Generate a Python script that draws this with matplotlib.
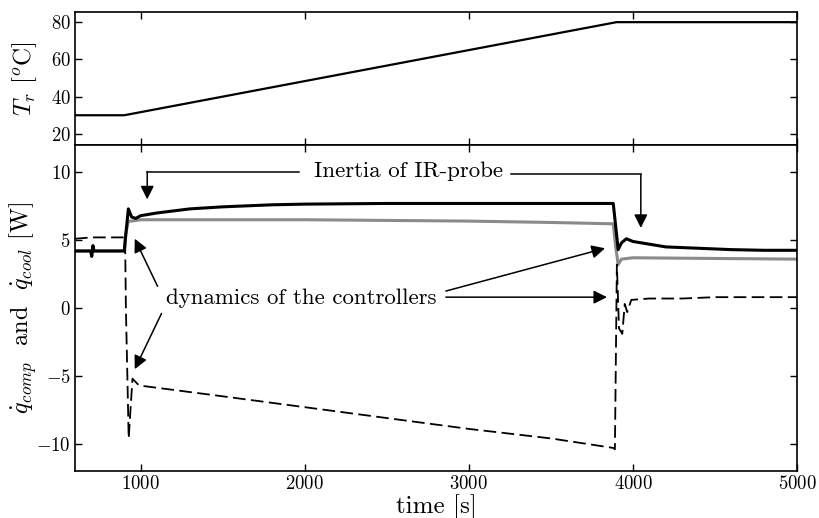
import matplotlib
matplotlib.use("Agg")
import matplotlib.pyplot as plt

plt.rcParams['font.family'] = ['cmr10', 'DejaVu Serif']
plt.rcParams['mathtext.fontset'] = 'cm'
plt.rcParams['axes.formatter.use_mathtext'] = True
plt.rcParams['axes.unicode_minus'] = True

# ---- data ----
t_temp = [600, 900, 3900, 5000]
T_r = [30, 30, 80, 80]

t_black = [600, 695, 702, 709, 716, 900, 910, 925, 945, 970, 1000, 1100, 1300, 1500,
           1800, 2000, 2500, 3000, 3500, 3880, 3895, 3910, 3930, 3960, 4000, 4100,
           4200, 4400, 4600, 4800, 5000]
q_black = [4.2, 4.2, 3.8, 4.6, 4.2, 4.2, 5.5, 7.3, 6.7, 6.6, 6.8, 7.0, 7.3, 7.45,
           7.6, 7.65, 7.7, 7.7, 7.7, 7.7, 6.0, 4.3, 4.8, 5.1, 4.9, 4.7,
           4.5, 4.4, 4.3, 4.25, 4.25]

t_gray = [600, 900, 910, 925, 945, 1000, 1500, 2000, 2500, 3000, 3500, 3880,
          3895, 3910, 3930, 4000, 4500, 5000]
q_gray = [4.2, 4.2, 5.5, 6.4, 6.4, 6.5, 6.5, 6.5, 6.45, 6.4, 6.3, 6.2,
          4.5, 3.2, 3.6, 3.7, 3.65, 3.6]

t_dash = [600, 700, 800, 905, 910, 927, 950, 990, 1500, 2000, 2500, 3000, 3500,
          3880, 3890, 3902, 3915, 3935, 3950, 3965, 3990, 4100, 4300, 4500, 4700, 5000]
q_dash = [5.1, 5.2, 5.2, 5.2, 0.0, -9.6, -5.2, -5.7, -6.5, -7.3, -8.1, -8.9, -9.6,
          -10.3, -10.4, 3.2, -1.5, -1.9, 0.3, -0.3, 0.6, 0.7, 0.7, 0.8, 0.8, 0.8]

xticks = [1000, 2000, 3000, 4000, 5000]
yticks_top = [20, 40, 60, 80]
yticks_bot = [-10, -5, 0, 5, 10]

fig = plt.figure(figsize=(8.2, 5.18), dpi=100)
ax1 = fig.add_axes([0.0915, 0.720, 0.8805, 0.257])
ax2 = fig.add_axes([0.0915, 0.0907, 0.8805, 0.6293])

for ax in (ax1, ax2):
    ax.set_xlim(600, 5000)
    ax.set_xticks(xticks)
    ax.tick_params(direction='in', top=True, right=True, labelsize=13.5, length=5,
                   width=1, pad=3)
    for s in ax.spines.values():
        s.set_linewidth(1.2)

ax1.plot(t_temp, T_r, color='k', lw=1.6)
ax1.set_ylim(14, 85.5)
ax1.set_yticks(yticks_top)
ax1.tick_params(labelbottom=False)
ax1.set_ylabel(r'$T_r$ [$^o$C]', fontsize=18)
ax1.yaxis.set_label_coords(-0.05, 0.5)

ax2.plot(t_gray, q_gray, color='#8a8a8a', lw=2.2)
ax2.plot(t_black, q_black, color='k', lw=2.2)
ax2.plot(t_dash, q_dash, color='k', lw=1.3, dashes=(7, 3))
ax2.set_ylim(-12, 12)
ax2.set_yticks(yticks_bot)
ax2.set_xlabel('time [s]', fontsize=18, labelpad=0.5)
ax2.set_ylabel(r'$\dot{q}_{comp}$  and  $\dot{q}_{cool}$ [W]', fontsize=17.5)
ax2.yaxis.set_label_coords(-0.05, 0.5)

# annotations
ap = dict(arrowstyle='-|>', color='k', lw=1.1, mutation_scale=20, shrinkA=0, shrinkB=0)
ax2.text(2630, 10.1, 'Inertia of IR-probe', fontsize=16.5, ha='center', va='center')
ax2.plot([1964, 1040], [10.05, 10.05], color='k', lw=1.1)
ax2.annotate('', xy=(1040, 8.0), xytext=(1040, 10.05), arrowprops=ap)
ax2.plot([3255, 4048], [9.85, 9.85], color='k', lw=1.1)
ax2.annotate('', xy=(4048, 5.9), xytext=(4048, 9.85), arrowprops=ap)

ax2.text(1976, 0.7, 'dynamics of the controllers', fontsize=16.5, ha='center', va='center')
ax2.annotate('', xy=(964, 5.1), xytext=(1103, 1.6), arrowprops=ap)
ax2.annotate('', xy=(964, -4.5), xytext=(1127, -0.4), arrowprops=ap)
ax2.annotate('', xy=(3830, 4.4), xytext=(2860, 1.25), arrowprops=ap)
ax2.annotate('', xy=(3842, 0.8), xytext=(2860, 0.8), arrowprops=ap)

fig.savefig('out.png', dpi=100)
